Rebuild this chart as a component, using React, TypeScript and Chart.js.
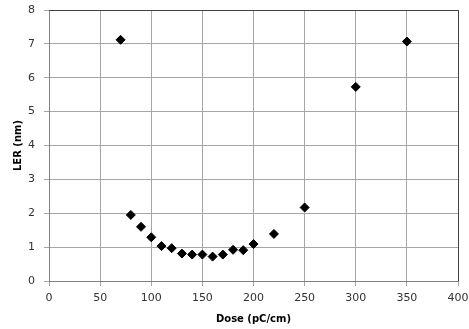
import React, { useEffect, useRef } from "react";
import { Chart, registerables } from "chart.js";

Chart.register(...registerables);

const doses = [70, 80, 90, 100, 110, 120, 130, 140, 150, 160, 170, 180, 190, 200, 220, 250, 300, 350];
const lerValues = [7.12, 1.95, 1.6, 1.29, 1.03, 0.97, 0.81, 0.78, 0.78, 0.72, 0.78, 0.92, 0.91, 1.09, 1.39, 2.17, 5.73, 7.07];
const xTitle = "Dose (pC/cm)";
const yTitle = "LER (nm)";

const borderPlugin = {
  id: "plotBorder",
  afterDraw(chart: any) {
    const { ctx, chartArea: a } = chart;
    ctx.save();
    ctx.strokeStyle = "#404040";
    ctx.lineWidth = 1;
    ctx.beginPath();
    ctx.moveTo(a.left, a.top + 0.5);
    ctx.lineTo(a.right + 0.5, a.top + 0.5);
    ctx.lineTo(a.right + 0.5, a.bottom);
    ctx.stroke();
    ctx.restore();
  },
};

export default function App() {
  const ref = useRef<HTMLCanvasElement>(null);
  useEffect(() => {
    const font = { family: "'DejaVu Sans', Verdana, sans-serif", size: 11 };
    const chart = new Chart(ref.current!, {
      type: "scatter",
      data: {
        datasets: [
          {
            data: doses.map((d, i) => ({ x: d, y: lerValues[i] })),
            pointStyle: "rectRot",
            pointRadius: 4.5,
            backgroundColor: "#000",
            borderColor: "#000",
          },
        ],
      },
      options: {
        animation: false,
        responsive: false,
        maintainAspectRatio: false,
        layout: { padding: { top: 10, right: 11, left: 0, bottom: 0 } },
        plugins: { legend: { display: false }, tooltip: { enabled: false } },
        scales: {
          x: {
            type: "linear",
            min: 0,
            max: 400,
            ticks: { stepSize: 50, color: "#333", font, padding: 6 },
            grid: { color: "#a6a6a6", tickLength: 5 },
            border: { color: "#808080" },
            title: { display: true, text: xTitle, color: "#000", font: { ...font, size: 10, weight: "bold" }, padding: { top: 2 } },
            afterFit: (s: any) => { s.height = 48; s.paddingLeft = 0; s.paddingRight = 0; },
          },
          y: {
            min: 0,
            max: 8,
            ticks: { stepSize: 1, color: "#333", font, padding: 9 },
            grid: { color: "#a6a6a6", tickLength: 5 },
            border: { color: "#808080" },
            title: { display: true, text: yTitle, color: "#000", font: { ...font, size: 10, weight: "bold" }, padding: { top: 12, bottom: 0 } },
            afterFit: (s: any) => { s.width = 49; s.paddingTop = 0; s.paddingBottom = 0; },
          },
        },
      },
      plugins: [borderPlugin],
    });
    return () => chart.destroy();
  }, []);
  return (
    <div style={{ position: "absolute", left: 0, top: 0, width: 469, height: 329, background: "#fff" }}>
      <canvas ref={ref} width={469} height={329} />
    </div>
  );
}
